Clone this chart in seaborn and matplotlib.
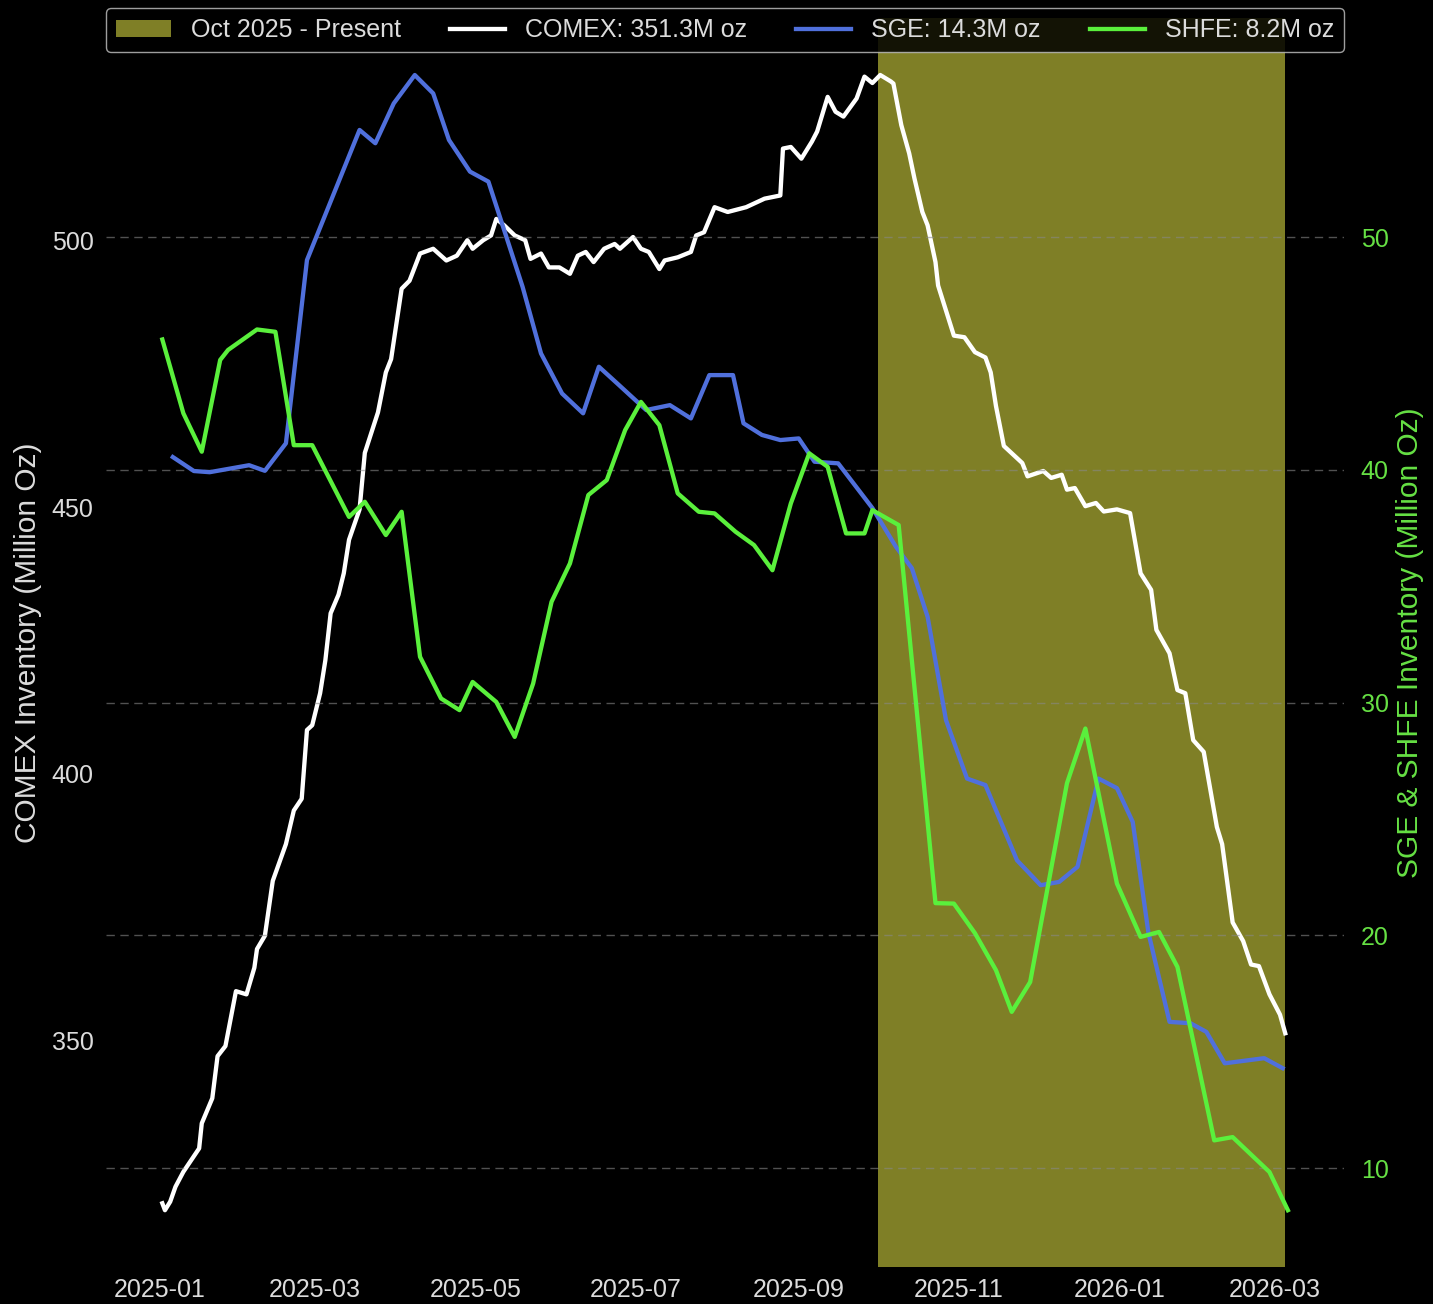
import pandas as pd
import numpy as np
import matplotlib
matplotlib.use('Agg')
import matplotlib.pyplot as plt
import matplotlib.dates as mdates
from matplotlib.ticker import MultipleLocator
from matplotlib.patches import Patch
import seaborn as sns

plt.style.use('dark_background')
plt.rcParams['font.family'] = ['Liberation Sans', 'DejaVu Sans']

base = pd.Timestamp('2025-01-01')

# COMEX silver inventory (million oz), day offsets from 2025-01-01
comex_day = [1, 2, 4, 6, 9, 15, 16, 20, 22, 25,
             29, 33, 36, 37, 40, 43, 48, 51, 54, 56,
             58, 61, 63, 65, 68, 70, 72, 76, 78, 83,
             86, 88, 92, 95, 99, 104, 109, 113, 117, 119,
             123, 126, 128, 131, 135, 139, 141, 145, 148, 152,
             156, 159, 162, 165, 169, 173, 175, 180, 183, 186,
             190, 192, 197, 202, 204, 207, 211, 216, 223, 230,
             236, 237, 240, 244, 248, 250, 254, 257, 260, 265,
             268, 271, 274, 278, 279, 282, 285, 287, 290, 292,
             295, 296, 300, 302, 306, 310, 314, 316, 318, 321,
             328, 330, 336, 339, 343, 345, 348, 352, 356, 359,
             364, 369, 373, 377, 379, 384, 387, 390, 393, 397,
             402, 404, 408, 412, 415, 418, 422, 426, 428]
comex_oz = [319.4, 318.1, 319.7, 322.5, 325.3, 329.7, 334.4, 339.1, 347.0, 348.9,
            359.2, 358.6, 363.6, 367.1, 369.6, 379.9, 386.8, 393.1, 395.3, 408.2,
            409.1, 415.1, 421.3, 430.1, 433.6, 437.6, 443.9, 449.6, 460.2, 467.8,
            475.3, 477.8, 491.0, 492.5, 497.6, 498.5, 496.3, 497.2, 500.1, 498.5,
            500.1, 501.0, 504.1, 502.9, 501.0, 500.1, 496.6, 497.6, 495.0, 495.0,
            493.8, 497.2, 497.9, 496.0, 498.5, 499.4, 498.5, 500.7, 498.5, 497.9,
            494.7, 496.3, 496.9, 497.9, 501.0, 501.6, 506.3, 505.4, 506.3, 507.9,
            508.5, 517.3, 517.6, 515.4, 518.6, 520.5, 527.0, 524.2, 523.3, 526.7,
            530.8, 529.6, 531.1, 529.9, 529.5, 521.7, 516.4, 511.7, 505.4, 502.9,
            496.0, 491.6, 485.3, 482.2, 481.9, 479.1, 478.1, 475.3, 469.0, 461.5,
            458.3, 455.8, 456.8, 455.5, 456.1, 453.3, 453.6, 450.2, 450.8, 449.2,
            449.6, 448.9, 437.6, 434.5, 427.0, 422.6, 415.7, 415.1, 406.3, 404.1,
            390.0, 386.8, 372.1, 368.6, 364.2, 363.9, 358.6, 354.8, 351.3]

# SGE weekly inventory
sge_day = [5, 13, 19, 34, 40, 48, 56, 76, 82, 89,
           97, 104, 110, 118, 125, 138, 145, 153, 161, 167,
           174, 185, 194, 202, 209, 218, 222, 229, 236, 243,
           249, 258, 271, 280, 286, 292, 299, 307, 314, 326,
           335, 342, 349, 357, 364, 370, 376, 384, 392, 398,
           405, 420, 427]
sge_oz = [40.55, 39.95, 39.90, 40.20, 39.96, 41.14, 49.01, 54.60, 54.03, 55.74,
          56.96, 56.17, 54.17, 52.81, 52.38, 47.86, 45.00, 43.28, 42.43, 44.43,
          43.71, 42.57, 42.78, 42.21, 44.07, 44.07, 42.00, 41.50, 41.28, 41.35,
          40.35, 40.28, 38.36, 36.69, 35.78, 33.69, 29.25, 26.74, 26.46, 23.23,
          22.16, 22.30, 22.95, 26.74, 26.33, 24.88, 20.10, 16.29, 16.23, 15.86,
          14.51, 14.73, 14.30]

# SHFE weekly inventory
shfe_day = [1, 9, 16, 23, 26, 37, 44, 51, 58, 72,
            78, 86, 92, 99, 107, 114, 119, 128, 135, 142,
            149, 156, 163, 170, 177, 183, 190, 197, 205, 211,
            219, 226, 233, 240, 247, 254, 261, 268, 271, 281,
            295, 302, 310, 318, 324, 331, 345, 352, 364, 373,
            380, 387, 401, 408, 422, 429]
shfe_oz = [45.60, 42.43, 40.78, 44.72, 45.15, 46.03, 45.93, 41.06, 41.06, 37.98,
           38.63, 37.20, 38.20, 31.97, 30.18, 29.68, 30.89, 30.03, 28.53, 30.82,
           34.33, 35.98, 38.92, 39.56, 41.71, 42.92, 41.92, 38.99, 38.20, 38.13,
           37.34, 36.77, 35.69, 38.56, 40.71, 40.13, 37.27, 37.27, 38.27, 37.63,
           21.39, 21.37, 20.10, 18.51, 16.72, 18.00, 26.54, 28.89, 22.23, 19.94,
           20.15, 18.65, 11.20, 11.34, 9.84, 8.20]

span_start = pd.Timestamp('2025-10-01')

comex = pd.DataFrame({'date': base + pd.to_timedelta(comex_day, unit='D'), 'oz': comex_oz})
sge = pd.DataFrame({'date': base + pd.to_timedelta(sge_day, unit='D'), 'oz': sge_oz})
shfe = pd.DataFrame({'date': base + pd.to_timedelta(shfe_day, unit='D'), 'oz': shfe_oz})

blue = '#5070dc'
green = '#5af03c'
green_txt = '#66e044'
grey_txt = '#dcdcdc'
span_col = '#ffff4d'

fig, ax1 = plt.subplots(figsize=(14.33, 13.04), dpi=100)
fig.subplots_adjust(left=0.074, right=0.938, top=0.986, bottom=0.0284)
ax2 = ax1.twinx()

sns.lineplot(data=comex, x='date', y='oz', ax=ax1, color='white', lw=3.1,
             estimator=None, sort=False, zorder=3)
sns.lineplot(data=sge, x='date', y='oz', ax=ax2, color=blue, lw=3.1,
             estimator=None, sort=False)
sns.lineplot(data=shfe, x='date', y='oz', ax=ax2, color=green, lw=3.1,
             estimator=None, sort=False)

# shaded period up to the latest observation
span_end = max(comex['date'].iloc[-1], shfe['date'].iloc[-1] - pd.Timedelta(days=1))
ax1.axvspan(span_start, span_end, color=span_col, alpha=0.5, lw=0, zorder=0)

# axes styling
for ax in (ax1, ax2):
    for s in ax.spines.values():
        s.set_visible(False)
ax1.grid(False)
ax2.grid(True, axis='y', color='#888888', lw=1, alpha=0.6, dashes=(6, 4))
ax2.grid(False, axis='x')

ax1.xaxis.set_major_locator(mdates.MonthLocator(bymonth=[1, 3, 5, 7, 9, 11]))
ax1.xaxis.set_major_formatter(mdates.DateFormatter('%Y-%m'))
ax1.yaxis.set_major_locator(MultipleLocator(50))
ax2.yaxis.set_major_locator(MultipleLocator(10))

ax1.tick_params(axis='x', labelsize=18, colors=grey_txt, length=0, pad=8)
ax1.tick_params(axis='y', labelsize=18, colors=grey_txt, length=0, pad=9)
ax2.tick_params(axis='y', labelsize=18, colors=green_txt, length=0, pad=12)

ax1.set_xlabel('')
ax1.set_ylabel('COMEX Inventory (Million Oz)', fontsize=21.5, color=grey_txt, labelpad=7)
ax2.set_ylabel('SGE & SHFE Inventory (Million Oz)', fontsize=21.5, color=green_txt, labelpad=5)

handles = [Patch(facecolor=span_col, alpha=0.5, lw=0),
           ax1.get_lines()[0], ax2.get_lines()[0], ax2.get_lines()[1]]
labels = ['Oct 2025 - Present',
          f'COMEX: {comex_oz[-1]:.1f}M oz',
          f'SGE: {sge_oz[-1]:.1f}M oz',
          f'SHFE: {shfe_oz[-1]:.1f}M oz']
leg = ax2.legend(handles, labels, loc='upper left', bbox_to_anchor=(0, 1.008, 1, 0),
                 mode='expand', ncol=4, borderaxespad=0, fontsize=18,
                 facecolor='black', edgecolor='#bbbbbb', framealpha=0.85,
                 labelcolor=grey_txt, handlelength=2.2)

fig.savefig('out.png', dpi=100, facecolor='black')
